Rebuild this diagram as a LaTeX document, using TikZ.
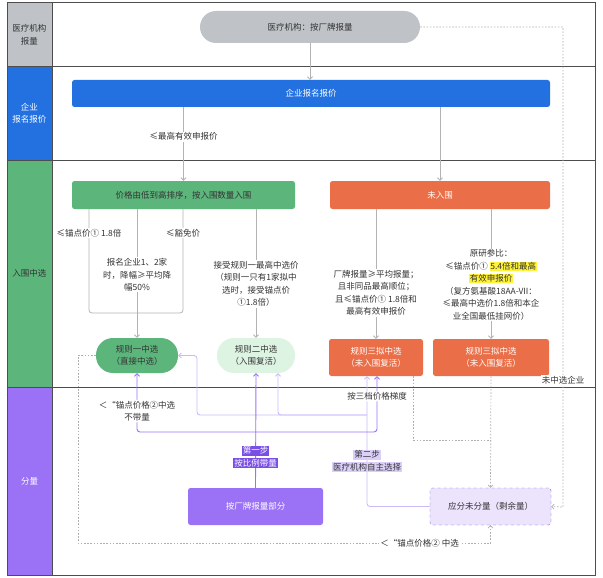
\documentclass[tikz,border=0pt]{standalone}
\usepackage{fontspec}
\setmainfont{Noto Sans CJK SC}
\usetikzlibrary{positioning,arrows.meta}

\definecolor{ink}{HTML}{333333}
\definecolor{framegray}{HTML}{4D4D4D}
\definecolor{lngray}{HTML}{BFC3C7}
\definecolor{lnblue}{HTML}{2371E0}
\definecolor{lngreen}{HTML}{5CB57B}
\definecolor{ltgreen}{HTML}{DDF4E3}
\definecolor{lnorange}{HTML}{EA6F48}
\definecolor{lnpurple}{HTML}{9B71F6}
\definecolor{dkpurple}{HTML}{7A4FE6}
\definecolor{ltpurple}{HTML}{CBBBF8}
\definecolor{lavender}{HTML}{ECE4FD}
\definecolor{linegray}{HTML}{B3B3B3}
\definecolor{dotgray}{HTML}{AFAFAF}
\definecolor{hlyellow}{HTML}{FFF23A}

\newcommand\hlt[1]{{\setlength{\fboxsep}{0.5pt}\colorbox{hlyellow}{#1}}}
\newcommand\stepln[3]{{\setlength{\fboxsep}{1pt}\colorbox{#1}{\textcolor{#2}{#3}}}}

\tikzset{
  every node/.style={font=\fontsize{8.5}{12.5}\selectfont, text=ink},
  lanetxt/.style={align=center},
  pillbox/.style={rounded corners=#1, minimum height=35pt, align=center, inner sep=0pt},
  bar/.style={rounded corners=2.5pt, minimum height=28pt, align=center, inner sep=0pt},
  lbl/.style={fill=white, inner sep=1pt, align=center},
  frame/.style={draw=framegray, line width=1pt},
  link/.style={draw=linegray, line width=0.8pt},
  tip/.style={-{Straight Barb[length=2.5pt,width=5pt]}},
  flow/.style={link, tip},
  dotline/.style={draw=dotgray, line width=0.7pt, dash pattern=on 1.6pt off 1.6pt},
  dots/.style={dotline, tip},
  pline/.style={draw=lnpurple, line width=0.9pt, tip},
  lline/.style={draw=ltpurple, line width=0.9pt, tip}
}

\begin{document}
\begin{tikzpicture}[x=1pt, y=-1pt]
  \useasboundingbox (0,0) rectangle (603,578);

  %%%%% lanes %%%%%
  \fill[lngray] (7,3) rectangle (52,67);
  \fill[lnblue] (7,67) rectangle (52,160);
  \fill[lngreen] (7,160) rectangle (52,387);
  \fill[lnpurple] (7,387) rectangle (52,575);
  \node[lanetxt] (lane1) at (29.5,35) {医疗机构\\报量};
  \node[lanetxt, text=white] (lane2) at (29.5,113.5) {企业\\报名报价};
  \node[lanetxt] (lane3) at (29.5,273.5) {入围中选};
  \node[lanetxt, text=white] (lane4) at (29.5,481) {分量};
  \draw[frame] (7,3) rectangle (595,575);
  \draw[frame] (52,3) -- (52,575);
  \foreach \y in {67,160,387}
    \draw[frame] (7,\y) -- (595,\y);

  %%%%% boxes %%%%%
  \node[pillbox=16pt, fill=lngray, minimum width=220pt, minimum height=32pt] (hosp) at (310,27) {医疗机构：按厂牌报量};
  \node[bar, fill=lnblue, text=white, minimum width=478pt, minimum height=27pt] (quote) at (311,93.5) {企业报名报价};
  \node[bar, fill=lngreen, minimum width=223pt] (rank) at (183.5,195) {价格由低到高排序，按入围数量入围};
  \node[bar, fill=lnorange, text=white, minimum width=220pt] (out) at (440,195) {未入围};

  \node[pillbox=17pt, fill=lngreen, minimum width=82pt] (rule1) at (137,355.5) {规则一中选\\（直接中选）};
  \node[pillbox=17pt, fill=ltgreen, minimum width=78pt] (rule2) at (256,355.5) {规则二中选\\（入围复活）};
  \node[bar, fill=lnorange, text=white, minimum width=94pt, minimum height=37pt] (rule3a) at (376,357.5) {规则三拟中选\\（未入围复活）};
  \node[bar, fill=lnorange, text=white, minimum width=116pt, minimum height=37pt] (rule3b) at (491,357.5) {规则三拟中选\\（未入围复活）};

  \node[bar, fill=lnpurple, text=white, minimum width=135pt, minimum height=37pt] (brand) at (255.5,506.5) {按厂牌报量部分};
  \node[bar, fill=lavender, draw=dkpurple, dashed, minimum width=121pt, minimum height=37pt] (remain) at (490.5,506.5) {应分未分量（剩余量）};

  %%%%% bends %%%%%
  \coordinate (jn1) at (137,313);
  \coordinate (gL) at (89,313);
  \coordinate (gR) at (183,313);
  \coordinate (rc) at (563,507);
  \coordinate (dl) at (78,543);
  \coordinate (dj) at (491,440);
  \coordinate (pj) at (256,432);
  \coordinate (lc) at (367,415);
  \coordinate (lb) at (197,415);
  \coordinate (lm) at (278,415);

  %%%%% gray flow %%%%%
  \draw[flow] (hosp.south) -- (hosp.south |- quote.north);
  \draw[flow] (rank.north |- quote.south) -- node[lbl, pos=.4] {≤最高有效申报价} (rank.north);
  \draw[flow] (out.north |- quote.south) -- (out.north);

  \draw[link, rounded corners=3pt] (gL |- rank.south) -- node[lbl, pos=.23] {≤锚点价① 1.8倍} (gL) -- (jn1);
  \draw[link, rounded corners=3pt] (gR |- rank.south) -- node[lbl, pos=.23] {≤豁免价} (gR) -- (jn1);
  \draw[flow] (jn1 |- rank.south) -- node[lbl, pos=.51] {报名企业1、2家\\时，降幅≥平均降\\幅50\%} (rule1.north);
  \draw[flow] (rule2.north |- rank.south) -- node[lbl, pos=.58] {接受规则一最高中选价\\（规则一只有1家拟中\\选时，接受锚点价\\①1.8倍）} (rule2.north);

  \draw[flow] (rule3a.north |- out.south) -- node[lbl, pos=.646] {厂牌报量≥平均报量；\\且非同品最高顺位；\\且≤锚点价① 1.8倍和\\最高有效申报价} (rule3a.north);
  \draw[flow] (rule3b.north |- out.south) -- node[lbl, pos=.585] {原研参比：\\≤锚点价① \hlt{5.4倍和最高}\\\hlt{有效申报价}\\（复方氨基酸18AA-VII：\\≤最高中选价1.8倍和本企\\业全国最低挂网价）} (rule3b.north);

  %%%%% dotted %%%%%
  \draw[dots] (hosp.east) -| node[lbl, pos=.868] {未中选企业} (rc) -- (remain.east);
  \draw[dots] (rule1.west) -| (dl) -| node[lbl, pos=.414] {＜“锚点价格② 中选} (remain.south);
  \draw[dotline] ([xshift=-10pt]rule3a.south east) |- (dj);
  \draw[dots] (rule3b.south) -- (remain.north);

  %%%%% step two %%%%%
  \draw[lline, rounded corners=3pt] (remain.west) -| node[pos=.675, align=center, inner sep=0pt] {\stepln{ltpurple!70}{ink}{第二步}\\\stepln{ltpurple!70}{ink}{医疗机构自主选择}} ([xshift=-9pt]rule3a.south);
  \draw[lline, rounded corners=3pt] (lc) -- (lb) |- (rule1.east);
  \draw[lline, rounded corners=3pt] (lc) -| (lm |- rule2.south);

  %%%%% step one %%%%%
  \draw[pline] (brand.north) -- node[pos=.27, align=center, inner sep=0pt] {\stepln{dkpurple}{white}{第一步}\\\stepln{dkpurple}{white}{按比例带量}} (rule2.south);
  \draw[pline, rounded corners=3pt] (pj) -| node[lbl, pos=.678] {＜“锚点价格②中选\\不带量} (rule1.south);
  \draw[pline, rounded corners=3pt] (pj) -| node[lbl, pos=.82] {按三档价格梯度} ([xshift=1pt]rule3a.south);
\end{tikzpicture}
\end{document}
